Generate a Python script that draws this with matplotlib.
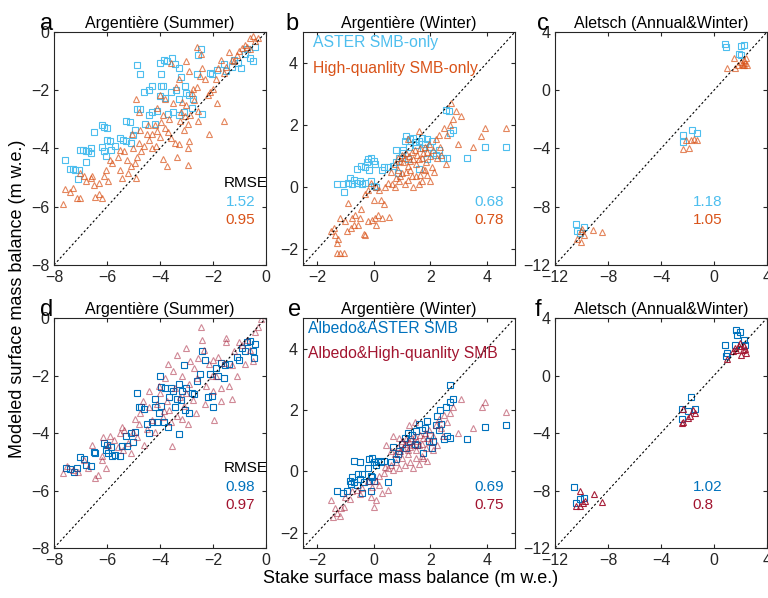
import numpy as np
import matplotlib.pyplot as plt

plt.rcParams['font.family'] = ['Liberation Sans', 'DejaVu Sans']

# colours
c_aster = '#4DBEEE'
c_hq = '#D95319'
c_alb_aster = '#0072BD'
c_alb_hq = '#A2142F'

# ---- Argentiere summer, SMB-only (x = stake, y = modeled)
a_aster = [(-7.6,-4.4),(-7.4,-4.7),(-7.3,-4.7),(-7.2,-4.75),(-7.1,-5.05),(-7.05,-4.75),(-7.0,-4.05),
           (-6.9,-4.05),(-6.8,-4.1),(-6.8,-4.45),(-6.7,-4.1),(-6.6,-4.0),(-6.6,-4.15),(-6.5,-3.45),
           (-6.2,-3.2),(-6.1,-3.25),(-6.0,-3.3),(-6.2,-3.95),(-6.1,-4.1),(-6.0,-3.7),(-5.9,-3.75),
           (-6.05,-4.25),(-5.85,-4.05),(-5.7,-3.9),(-5.5,-3.65),(-5.4,-3.7),(-5.3,-3.75),(-5.3,-3.05),
           (-5.15,-3.1),(-5.1,-3.8),(-5.0,-3.55),(-4.95,-3.35),(-4.85,-2.65),(-4.75,-2.65),(-4.6,-2.05),
           (-4.4,-2.0),(-4.3,-1.85),(-4.85,-1.15),(-4.75,-1.45),(-4.55,-3.15),(-4.4,-2.85),(-4.3,-2.75),
           (-4.2,-3.15),(-4.1,-2.7),(-4.0,-2.2),(-3.95,-1.85),(-3.9,-1.85),(-3.8,-2.25),(-3.85,-0.95),
           (-3.75,-1.0),(-4.0,-1.05),(-3.95,-1.45),(-3.55,-0.9),(-3.45,-1.1),(-3.3,-1.25),(-3.2,-1.55),
           (-3.05,-1.85),(-3.6,-2.05),(-3.4,-2.0),(-3.3,-2.3),(-3.0,-2.1),(-2.9,-2.15),(-3.7,-2.8),
           (-3.5,-2.75),(-3.3,-2.85),(-2.75,-2.3),(-2.6,-1.45),(-2.55,-0.8),(-2.45,-0.6),(-2.1,-1.4),
           (-2.05,-1.45),(-1.85,-1.3),(-1.6,-1.1),(-1.5,-1.35),(-1.3,-1.2),(-1.2,-0.95),(-1.05,-1.05),
           (-0.95,-1.25),(-0.8,-0.75),(-0.7,-0.6),(-0.6,-0.9),(-0.5,-1.0),(-0.4,-0.5),(-2.4,-2.8),
           (-3.1,-2.75),(-2.8,-2.6)]
a_hq = [(-7.65,-5.9),(-7.6,-5.4),(-7.4,-5.5),(-7.3,-5.35),(-7.15,-5.7),(-7.0,-5.7),(-7.0,-4.85),
        (-6.85,-4.95),(-6.8,-5.1),(-6.6,-5.0),(-6.55,-4.95),(-6.5,-5.25),(-6.45,-5.65),(-6.3,-5.55),
        (-6.3,-5.2),(-6.2,-5.7),(-6.1,-4.95),(-6.05,-4.75),(-5.95,-5.1),(-5.9,-4.4),(-5.8,-4.5),
        (-5.6,-4.3),(-5.5,-4.75),(-5.45,-5.0),(-5.35,-4.1),(-5.25,-4.4),(-5.2,-4.85),(-5.1,-4.6),
        (-5.0,-4.0),(-4.95,-4.5),(-4.85,-4.3),(-4.9,-5.0),(-4.8,-3.8),(-4.7,-4.1),(-4.6,-3.9),
        (-4.5,-3.5),(-4.45,-3.2),(-4.4,-3.7),(-4.3,-3.5),(-4.2,-3.2),(-4.15,-3.9),(-4.1,-3.4),
        (-4.0,-3.6),(-3.95,-3.1),(-3.9,-2.85),(-3.8,-3.3),(-3.7,-3.45),(-3.65,-3.0),(-3.6,-3.65),
        (-3.75,-4.6),(-3.5,-2.45),(-3.45,-3.8),(-3.35,-4.3),(-3.3,-3.85),(-3.25,-3.05),(-3.2,-2.75),
        (-3.15,-2.4),(-3.1,-3.35),(-3.05,-2.9),(-3.0,-2.5),(-2.95,-3.15),(-2.9,-3.75),(-2.85,-2.85),
        (-2.8,-2.1),(-2.75,-1.95),(-2.7,-2.35),(-2.6,-1.9),(-2.55,-2.7),(-2.5,-1.5),(-2.45,-0.75),
        (-2.4,-1.25),(-2.3,-1.6),(-2.2,-2.15),(-2.1,-2.05),(-2.0,-1.95),(-1.9,-1.6),(-1.8,-1.25),
        (-1.7,-0.95),(-1.6,-1.4),(-1.5,-1.2),(-1.4,-0.7),(-1.3,-0.95),(-1.2,-1.0),(-1.1,-0.8),
        (-1.0,-0.65),(-0.9,-0.55),(-0.8,-0.45),(-0.7,-0.5),(-0.6,-0.2),(-0.5,-0.15),(-0.4,-0.3),
        (-0.3,-0.2),(-0.6,-0.6),(-1.6,-3.05),(-2.15,-3.5),(-2.55,-3.05),(-3.6,-1.05),(-3.3,-1.6),
        (-2.6,-0.5),(-3.0,-1.0),(-3.8,-2.3),(-4.1,-2.6),(-4.8,-2.75),(-4.9,-2.3),(-3.9,-4.35),
        (-4.3,-4.0),(-5.5,-4.05),(-5.05,-3.5),(-4.75,-3.35),(-4.0,-2.15),(-2.9,-1.35),(-3.4,-1.9),
        (-1.85,-2.45),(-2.95,-4.0),(-2.95,-4.55)]

# ---- Argentiere winter, SMB-only
b_aster = [(-1.3,0.1),(-1.1,0.1),(-1.05,-0.15),(-0.9,0.15),(-0.85,0.3),(-0.75,0.1),(-0.7,0.25),
           (-0.6,0.15),(-0.5,0.2),(-0.4,0.1),(-0.3,0.15),(-0.6,0.6),(-0.45,0.7),(-0.3,0.65),
           (-0.25,0.8),(-0.2,0.9),(-0.15,0.55),(-0.1,0.95),(0.0,0.85),(0.05,0.75),(-0.1,0.2),
           (0.0,0.05),(0.1,0.0),(0.3,0.55),(0.35,0.65),(0.5,0.65),(0.7,0.7),(0.8,0.8),(0.9,0.95),
           (1.0,1.1),(1.05,1.2),(1.1,1.5),(1.15,1.65),(1.25,1.3),(1.3,1.55),(1.4,1.6),(1.45,1.45),
           (1.5,1.35),(1.6,1.5),(1.7,1.6),(1.75,1.25),(1.8,1.4),(1.9,1.55),(2.0,1.3),(2.05,1.5),
           (2.1,1.1),(2.2,1.05),(2.3,1.2),(2.45,0.95),(2.6,0.95),(2.7,1.75),(2.8,1.85),(2.55,2.5),
           (2.65,2.45),(3.3,0.95),(3.95,1.3),(4.7,1.3),(1.6,0.6),(1.9,0.9),(1.2,0.9),(0.8,1.2),
           (0.85,0.45)]
b_hq = [(-1.5,-1.4),(-1.4,-1.3),(-1.35,-1.55),(-1.3,-1.8),(-1.25,-1.65),(-1.3,-2.1),(-1.2,-2.1),
        (-1.05,-2.1),(-1.2,-1.0),(-1.0,-1.1),(-0.95,-1.4),(-0.8,-1.3),(-0.75,-1.0),(-0.7,-1.2),
        (-0.65,-0.9),(-0.55,-1.2),(-0.5,-1.0),(-0.35,-1.5),(-0.3,-1.55),(-0.2,-1.1),(-0.05,-1.05),
        (0.05,-1.0),(0.15,-0.9),(0.1,-1.2),(0.3,-1.0),(0.55,-0.95),(0.25,-0.4),(0.0,-0.4),
        (-0.2,-0.1),(-0.3,-0.2),(-0.1,0.15),(0.1,0.0),(0.2,-0.1),(0.4,0.0),(0.5,0.15),(0.65,0.1),
        (0.75,0.0),(0.8,0.3),(0.85,0.55),(0.9,0.2),(1.0,0.45),(1.1,0.1),(1.15,0.5),(1.2,0.25),
        (1.3,0.55),(1.4,0.0),(1.5,0.35),(1.6,0.1),(1.7,0.2),(1.8,0.55),(1.9,0.4),(2.0,0.2),
        (2.05,0.65),(2.15,0.5),(0.75,0.75),(0.85,0.95),(0.95,0.85),(1.0,1.05),(1.05,0.8),
        (1.1,0.95),(1.15,1.1),(1.2,0.7),(1.25,1.0),(1.3,0.85),(1.35,1.15),(1.4,0.9),(1.45,1.2),
        (1.5,0.75),(1.55,1.05),(1.6,0.9),(1.65,1.25),(1.7,0.95),(1.75,1.1),(1.8,1.3),(1.85,0.8),
        (1.9,1.15),(1.95,1.4),(2.0,1.0),(2.1,1.2),(2.2,1.55),(2.3,1.7),(2.35,1.3),(2.5,1.9),
        (2.6,1.7),(2.7,2.0),(2.8,2.2),(2.9,2.45),(2.75,2.7),(3.1,2.3),(3.0,1.4),(3.5,1.3),
        (3.8,1.65),(3.95,1.9),(4.7,1.9),(1.2,1.55),(1.6,1.8),(2.4,1.05),(2.55,0.75),(0.6,0.5),
        (0.95,0.35),(1.35,0.35),(1.75,0.6),(2.25,0.95),(-0.45,-0.7),(0.35,-0.55),(-0.9,-0.5),
        (1.65,0.4)]

# ---- Aletsch annual & winter, SMB-only
c_aster_pts = [(-10.45,-9.2),(-10.35,-9.7),(-9.85,-9.4),(-10.1,-9.8),(0.8,3.15),(0.9,2.95),
               (1.85,2.5),(2.0,3.05),(2.3,3.1),(2.0,2.4),(-2.35,-3.05),(-2.35,-3.55),(-1.65,-2.7),
               (-1.3,-2.95)]
c_hq_pts = [(-9.95,-9.55),(-10.05,-9.65),(-9.85,-9.95),(-10.35,-10.25),(-10.05,-10.4),(-9.1,-9.6),
            (-8.45,-9.75),(-2.35,-4.05),(-1.9,-4.0),(-2.15,-3.45),(-1.75,-3.4),(-1.5,-3.35),
            (-1.3,-3.4),(0.95,1.55),(1.5,2.2),(1.6,1.5),(1.8,1.75),(2.0,1.95),(2.1,1.8),(2.25,2.1),
            (2.35,1.85),(2.45,2.2),(2.2,1.75),(2.3,1.7),(2.5,1.7)]

# ---- Argentiere summer, albedo + SMB
d_aster = [(-7.55,-5.2),(-7.4,-5.25),(-7.25,-5.35),(-7.15,-5.2),(-7.0,-4.85),(-6.85,-4.9),
           (-6.8,-5.1),(-6.6,-5.15),(-6.5,-4.65),(-6.45,-4.7),(-6.1,-4.35),(-6.05,-4.6),(-6.0,-4.4),
           (-5.95,-4.7),(-5.85,-4.5),(-5.8,-4.8),(-5.7,-4.75),(-5.5,-4.8),(-5.45,-4.45),(-5.3,-4.1),
           (-5.25,-4.45),(-5.1,-4.0),(-5.0,-4.3),(-4.95,-3.95),(-4.85,-2.6),(-4.8,-3.1),(-4.7,-3.1),
           (-4.6,-3.15),(-4.5,-3.7),(-4.4,-4.0),(-4.3,-3.6),(-4.2,-3.1),(-4.2,-2.8),(-4.05,-3.3),
           (-4.0,-2.0),(-3.95,-2.4),(-3.8,-2.45),(-3.7,-3.8),(-3.65,-2.75),(-3.6,-2.45),(-3.5,-2.55),
           (-3.45,-3.1),(-3.35,-2.8),(-3.3,-2.3),(-3.2,-2.85),(-3.15,-2.55),(-3.1,-1.65),(-3.05,-3.2),
           (-3.0,-2.45),(-2.9,-3.3),(-2.8,-2.6),(-2.7,-2.65),(-2.6,-2.2),(-2.5,-1.95),(-2.4,-1.15),
           (-2.3,-1.45),(-2.2,-2.75),(-2.05,-2.7),(-2.1,-1.95),(-2.0,-3.1),(-1.9,-1.75),(-1.8,-2.0),
           (-1.7,-1.55),(-1.6,-2.1),(-1.55,-1.65),(-1.4,-1.6),(-1.1,-1.35),(-1.0,-1.45),(-0.9,-1.05),
           (-0.8,-1.15),(-0.7,-0.85),(-0.6,-0.8),(-0.5,-1.15),(-0.4,-0.9),(-0.45,-1.4),(-3.3,-4.05),
           (-3.95,-3.05),(-3.85,-3.6),(-4.1,-3.6)]
d_hq = [(-7.65,-5.4),(-7.5,-5.15),(-7.3,-5.3),(-7.1,-5.35),(-6.85,-4.95),(-6.7,-5.2),(-6.55,-4.4),
        (-6.45,-5.55),(-6.35,-5.45),(-6.2,-4.95),(-6.15,-4.15),(-6.05,-5.2),(-5.95,-4.4),
        (-5.9,-4.1),(-5.75,-4.25),(-5.6,-4.5),(-5.5,-4.0),(-5.4,-4.6),(-5.35,-3.9),(-5.2,-4.35),
        (-5.1,-4.7),(-5.0,-3.95),(-4.95,-3.5),(-4.85,-4.15),(-4.75,-3.3),(-4.6,-4.4),(-4.5,-3.85),
        (-4.4,-3.1),(-4.3,-3.55),(-4.2,-3.95),(-4.1,-3.0),(-4.0,-2.6),(-3.9,-3.45),(-3.85,-3.25),
        (-3.8,-2.1),(-3.75,-2.9),(-3.65,-3.2),(-3.55,-4.45),(-3.5,-1.85),(-3.45,-2.45),
        (-3.35,-3.4),(-3.25,-2.75),(-3.15,-2.0),(-3.1,-3.05),(-3.0,-2.6),(-2.95,-3.7),(-2.9,-2.3),
        (-2.85,-1.5),(-2.75,-2.85),(-2.7,-1.75),(-2.6,-2.1),(-2.55,-1.4),(-2.45,-0.3),(-2.4,-0.75),
        (-2.35,-1.1),(-2.25,-2.35),(-2.15,-1.6),(-2.05,-2.0),(-1.95,-3.55),(-1.9,-2.0),(-1.8,-1.35),
        (-1.7,-2.45),(-1.6,-1.55),(-1.5,-0.85),(-1.4,-2.35),(-1.3,-1.65),(-1.3,-2.8),(-1.2,-1.15),
        (-1.1,-2.0),(-1.0,-0.85),(-0.9,-0.95),(-0.8,-1.6),(-0.7,-0.75),(-0.6,-1.1),(-0.5,-1.5),
        (-0.4,-0.5),(-0.3,-0.3),(-0.2,-0.05),(-1.5,-0.7),(-2.0,-1.45),(-3.7,-1.6),(-3.35,-1.3),
        (-3.0,-1.05),(-4.05,-2.35),(-4.4,-2.55),(-4.8,-3.7),(-5.45,-3.8),(-6.2,-4.8),(-3.6,-3.6),
        (-3.15,-3.5),(-2.3,-3.0),(-2.65,-3.3),(-4.65,-2.9),(-1.7,-2.9),(-2.0,-2.55)]

# ---- Argentiere winter, albedo + SMB
e_aster = [(-1.3,-0.65),(-1.1,-0.7),(-0.95,-0.65),(-0.85,-0.3),(-0.8,-0.4),(-0.75,-0.2),
           (-0.7,-0.35),(-0.6,-0.45),(-0.55,-0.1),(-0.5,-0.25),(-0.4,-0.1),(-0.35,-0.35),
           (-0.4,-0.7),(-0.2,0.1),(-0.15,-0.3),(-0.1,-0.15),(-0.05,-0.2),(0.0,-0.3),(-0.1,-0.65),
           (-0.15,0.4),(-0.05,0.45),(0.0,0.3),(0.1,0.2),(0.15,0.35),(0.25,0.3),(0.35,0.35),
           (-0.7,0.35),(0.5,-0.35),(-0.5,0.3),(0.6,0.3),(0.8,0.4),(0.9,0.65),(1.0,0.9),(1.1,1.1),
           (1.2,1.25),(1.3,1.0),(1.35,1.2),(1.5,1.3),(1.6,1.55),(1.7,1.35),(1.8,1.4),(1.9,1.65),
           (2.0,1.2),(2.1,1.0),(2.2,1.5),(2.25,1.8),(2.3,1.35),(2.4,1.55),(2.5,1.05),(2.6,1.15),
           (2.7,1.1),(2.55,2.1),(2.7,2.25),(2.8,2.35),(2.7,2.8),(3.3,1.05),(3.95,1.45),(4.7,1.5),
           (1.45,0.9),(1.75,0.6),(2.05,0.75),(1.15,0.75),(0.85,0.55),(0.7,0.8),(2.35,2.0),
           (1.95,1.0),(1.55,0.85)]
e_hq = [(-1.5,-0.95),(-1.45,-1.5),(-1.35,-1.2),(-1.3,-1.35),(-1.2,-1.45),(-1.15,-1.2),
        (-1.05,-1.15),(-0.85,-0.9),(-0.75,-0.65),(-0.6,-0.6),(-0.5,-0.75),(-0.4,-0.55),
        (-0.1,-0.85),(0.1,-0.95),(-0.05,-0.5),(0.1,-0.3),(0.3,-0.7),(0.5,-0.6),(-1.0,-0.85),
        (0.0,-1.15),(0.2,-0.15),(0.35,-0.05),(0.4,0.15),(0.5,0.1),(0.6,0.2),(0.7,0.05),(0.8,0.3),
        (0.9,0.1),(1.0,0.45),(1.1,0.2),(1.2,0.55),(1.3,0.3),(1.4,0.1),(1.5,0.45),(1.6,0.25),
        (1.75,0.45),(1.9,0.35),(0.75,0.55),(0.85,0.8),(0.95,0.65),(1.0,1.0),(1.05,0.75),(1.1,0.9),
        (1.15,1.05),(1.2,0.7),(1.25,0.95),(1.3,0.8),(1.35,1.1),(1.4,0.85),(1.45,1.15),(1.5,0.7),
        (1.55,1.0),(1.6,0.85),(1.65,1.2),(1.7,0.9),(1.75,1.1),(1.8,1.25),(1.85,0.75),(1.9,1.1),
        (1.95,1.35),(2.0,0.95),(2.1,1.15),(2.2,1.5),(2.3,1.7),(2.4,1.4),(2.5,1.85),(2.6,1.6),
        (2.7,1.9),(2.8,2.1),(2.45,1.15),(2.1,0.7),(3.1,2.35),(3.0,1.25),(3.5,1.4),(3.85,2.1),
        (3.95,2.25),(4.7,1.95),(0.9,1.1),(1.25,1.5),(1.45,1.6),(0.6,0.65),(0.45,0.85),(0.7,1.15),
        (1.7,0.5),(2.25,0.85),(-0.2,-0.3),(0.2,-0.45)]

# ---- Aletsch annual & winter, albedo + SMB
f_aster = [(-10.55,-7.75),(-10.4,-8.9),(-10.1,-8.6),(-9.85,-8.5),(-1.75,-1.5),(-2.4,-2.3),
           (-1.95,-2.5),(-2.4,-3.0),(-1.45,-2.3),(1.65,3.2),(1.7,2.85),(1.95,3.0),(0.8,2.15),
           (0.95,1.6),(0.9,1.35),(1.6,2.15),(2.3,2.5),(2.35,2.15)]
f_hq = [(-10.4,-9.1),(-10.15,-9.05),(-10.1,-8.0),(-9.9,-8.85),(-9.75,-8.7),(-9.05,-8.25),
        (-8.45,-8.8),(-2.35,-3.2),(-2.4,-3.3),(-1.95,-2.95),(-1.8,-2.8),(-1.55,-2.4),(-1.4,-2.6),
        (-2.35,-2.35),(1.0,1.15),(1.45,1.7),(1.6,1.9),(1.95,2.25),(1.85,2.05),(2.05,1.45),
        (2.2,1.8),(2.3,2.05),(2.45,1.55),(2.35,1.85),(1.65,1.8)]

titles = ['Argentière (Summer)', 'Argentière (Winter)', 'Aletsch (Annual&Winter)']
letters = ['a', 'b', 'c', 'd', 'e', 'f']
letter_x = [-0.066, -0.085, -0.085, -0.066, -0.07, -0.094]
limits = [(-8, 0), (-2.5, 5), (-12, 4)]
ticks = [[-8, -6, -4, -2, 0], [-2, 0, 2, 4], [-12, -8, -4, 0, 4]]
rmse_top = [('1.52', '0.95'), ('0.68', '0.78'), ('1.18', '1.05')]
rmse_bot = [('0.98', '0.97'), ('0.69', '0.75'), ('1.02', '0.8')]

fig = plt.figure(figsize=(7.68, 5.98), dpi=100)
lefts = [0.0703, 0.3945, 0.7227]
w = 0.276
rows = [(0.5569, 0.3896), (0.0836, 0.3846)]

series = [[(a_aster, a_hq), (b_aster, b_hq), (c_aster_pts, c_hq_pts)],
          [(d_aster, d_hq), (e_aster, e_hq), (f_aster, f_hq)]]

for r in range(2):
    for c in range(3):
        ax = fig.add_axes([lefts[c], rows[r][0], w, rows[r][1]])
        sq, tri = series[r][c]
        sq = np.array(sq)
        tri = np.array(tri)
        if r == 0:
            col_sq, col_tri, tri_alpha = c_aster, c_hq, 0.7
        else:
            col_sq, col_tri = c_alb_aster, c_alb_hq
            tri_alpha = 0.95 if c == 2 else 0.5
        ax.plot(sq[:, 0], sq[:, 1], 's', ms=4.2, mfc='none', mec=col_sq, mew=0.8)
        ax.plot(tri[:, 0], tri[:, 1], '^', ms=4.6, mfc='none', mec=col_tri, mew=0.8,
                alpha=tri_alpha)
        lo, hi = limits[c]
        ax.plot([lo, hi], [lo, hi], color='black', lw=0.8, ls=(0, (2, 2)))
        ax.set_xlim(lo, hi)
        ax.set_ylim(lo, hi)
        ax.set_xticks(ticks[c])
        ax.set_yticks(ticks[c])
        ax.tick_params(direction='in', length=3, labelsize=11.5, top=True, right=True,
                       colors='#262626')
        for s in ax.spines.values():
            s.set_color('#262626')
            s.set_linewidth(0.8)
        ax.set_title(titles[c], fontsize=11.5, pad=3)
        ax.text(letter_x[r * 3 + c], 1.008, letters[r * 3 + c], transform=ax.transAxes,
                fontsize=17, ha='left', va='baseline')

        vals = rmse_top[c] if r == 0 else rmse_bot[c]
        xt = 0.65 if c == 2 else 0.81
        y1, y2 = (0.27, 0.193) if r == 0 else (0.265, 0.187)
        if c == 0:
            ax.text(0.80, 0.352 if r == 0 else 0.348, 'RMSE', transform=ax.transAxes,
                    fontsize=11, va='center')
        ax.text(xt, y1, vals[0], color=col_sq, transform=ax.transAxes, fontsize=11, va='center')
        ax.text(xt, y2, vals[1], color=col_tri, transform=ax.transAxes, fontsize=11, va='center')

        if c == 1:
            labels = (('ASTER SMB-only', 'High-quanlity SMB-only') if r == 0
                      else ('Albedo&ASTER SMB', 'Albedo&High-quanlity SMB'))
            xl = 0.047 if r == 0 else 0.025
            ax.text(xl, 0.953, labels[0], color=col_sq, transform=ax.transAxes,
                    fontsize=11.3, va='center')
            ax.text(xl, 0.845, labels[1], color=col_tri, transform=ax.transAxes,
                    fontsize=11.3, va='center')

fig.text(0.023, 0.5, 'Modeled surface mass balance (m w.e.)', rotation=90,
         ha='center', va='center', fontsize=13)
fig.text(0.535, 0.033, 'Stake surface mass balance (m w.e.)', ha='center', va='center',
         fontsize=13)

fig.savefig('out.png', dpi=100)
